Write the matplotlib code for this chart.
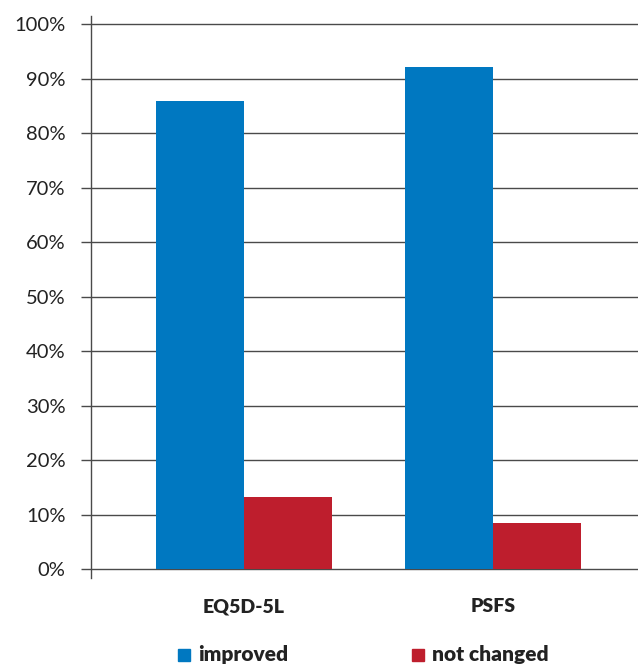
import numpy as np
import matplotlib.pyplot as plt

categories = ['EQ5D-5L', 'PSFS']
improved = [85.9, 92.1]
not_changed = [13.2, 8.5]
series_names = ['improved', 'not changed']
colors = ['#0078C1', '#BE1E2D']

plt.rcParams['font.family'] = ['Lato', 'DejaVu Sans']

fig = plt.figure(figsize=(6.38, 6.64), dpi=100)
# axes spans from the vertical line top (y=16px) to its bottom (y=578px)
ax = fig.add_axes([91 / 638, 1 - 578 / 664, 1 - 91 / 638, 562 / 664])

x = np.arange(len(categories))
w = 0.353
ax.bar(x - w / 2, improved, w, color=colors[0], zorder=3)
ax.bar(x + w / 2, not_changed, w, color=colors[1], zorder=3)

ax.set_xlim(-0.614, 1.582)
ax.set_ylim(-1.65, 101.5)
ax.set_yticks(range(0, 101, 10))
ax.set_yticklabels([f'{v}%' for v in range(0, 101, 10)], fontsize=14.5, color='#222222')
ax.yaxis.grid(True, color='#4a4a4a', linewidth=1.0, zorder=0)
ax.tick_params(axis='y', length=7.2, width=1.0, color='#4a4a4a', pad=11)
ax.tick_params(axis='x', length=0)
ax.set_xticks([])

for s in ['top', 'right', 'bottom']:
    ax.spines[s].set_visible(False)
ax.spines['left'].set_color('#4a4a4a')
ax.spines['left'].set_linewidth(1.0)

for i, c in enumerate(categories):
    fig.text((244 + i * 249) / 638, 1 - 607 / 664, c, ha='center', va='center',
             fontsize=14, fontweight='heavy', color='#222222')

# legend drawn as squares plus bold labels
for px, name, col in zip([184, 418], series_names, colors):
    fig.patches.append(plt.Rectangle((px / 638 - 6 / 638, 1 - 661 / 664), 12 / 638, 12 / 664,
                                     transform=fig.transFigure, color=col))
    fig.text((px + 14) / 638, 1 - 654 / 664, name, ha='left', va='center',
             fontsize=15, fontweight='heavy', color='#222222')

fig.savefig('out.png', dpi=100)
